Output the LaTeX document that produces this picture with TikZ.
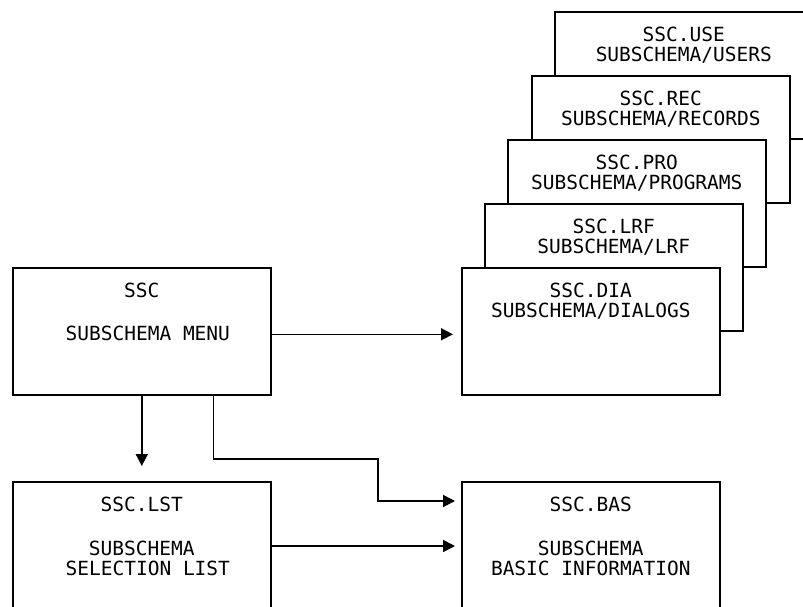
\documentclass[tikz,border=0pt]{standalone}
\usepackage{fontspec}
\setmonofont{DejaVu Sans Mono}
\usetikzlibrary{arrows.meta}

\begin{document}
\begin{tikzpicture}[x=1pt, y=-1pt,
    panel/.style={draw, line width=1.6pt, fill=white, anchor=north west,
      minimum width=258pt, minimum height=127pt, inner sep=0pt},
    caption/.style={anchor=north, inner sep=0pt, yshift=-16pt, align=center,
      font=\ttfamily\fontsize{19.5}{20}\selectfont},
    link/.style={line width=1.6pt, -{Triangle[length=12pt,width=12pt]}}]
  \useasboundingbox (0,0) rectangle (803,607);

  % stack of subschema screens, back to front
  \node[panel] (use) at (554,11) {};
  \node[caption] (usetxt) at (use.north) {SSC.USE\\SUBSCHEMA/USERS};
  \node[panel] (rec) at (531,75) {};
  \node[caption] (rectxt) at (rec.north) {SSC.REC\\SUBSCHEMA/RECORDS};
  \node[panel] (pro) at (507,139) {};
  \node[caption] (protxt) at (pro.north) {SSC.PRO\\SUBSCHEMA/PROGRAMS};
  \node[panel] (lrf) at (484,203) {};
  \node[caption] (lrftxt) at (lrf.north) {SSC.LRF\\SUBSCHEMA/LRF};
  \node[panel] (dia) at (461,267) {};
  \node[caption] (diatxt) at (dia.north) {SSC.DIA\\SUBSCHEMA/DIALOGS};

  \node[panel] (ssc) at (12,267) {};
  \node[caption] (ssctxt) at (ssc.north) {SSC\\[23pt]\hspace*{12pt}SUBSCHEMA MENU};

  \node[panel, minimum height=140pt] (lst) at (12,481) {};
  \node[caption] (lsttxt) at (lst.north)
    {SSC.LST\\[24pt]SUBSCHEMA\\\hspace*{12pt}SELECTION LIST};
  \node[panel, minimum height=140pt] (bas) at (461,481) {};
  \node[caption] (bastxt) at (bas.north) {SSC.BAS\\[24pt]SUBSCHEMA\\BASIC INFORMATION};

  \coordinate (bend) at (378,459);

  \draw[link, shorten >=8pt] ([yshift=-3pt]ssc.east) -- ([yshift=-3pt]dia.west);
  \draw[link, shorten >=15pt] (ssc.south) -- (lst.north);
  \draw[link, shorten >=6pt] ([xshift=-58pt]ssc.south east) |- (bend)
    |- ([yshift=-20pt]bas.north west);
  \draw[link, shorten >=6pt] ([yshift=-65pt]lst.north east) -- ([yshift=-65pt]bas.north west);
\end{tikzpicture}
\end{document}
